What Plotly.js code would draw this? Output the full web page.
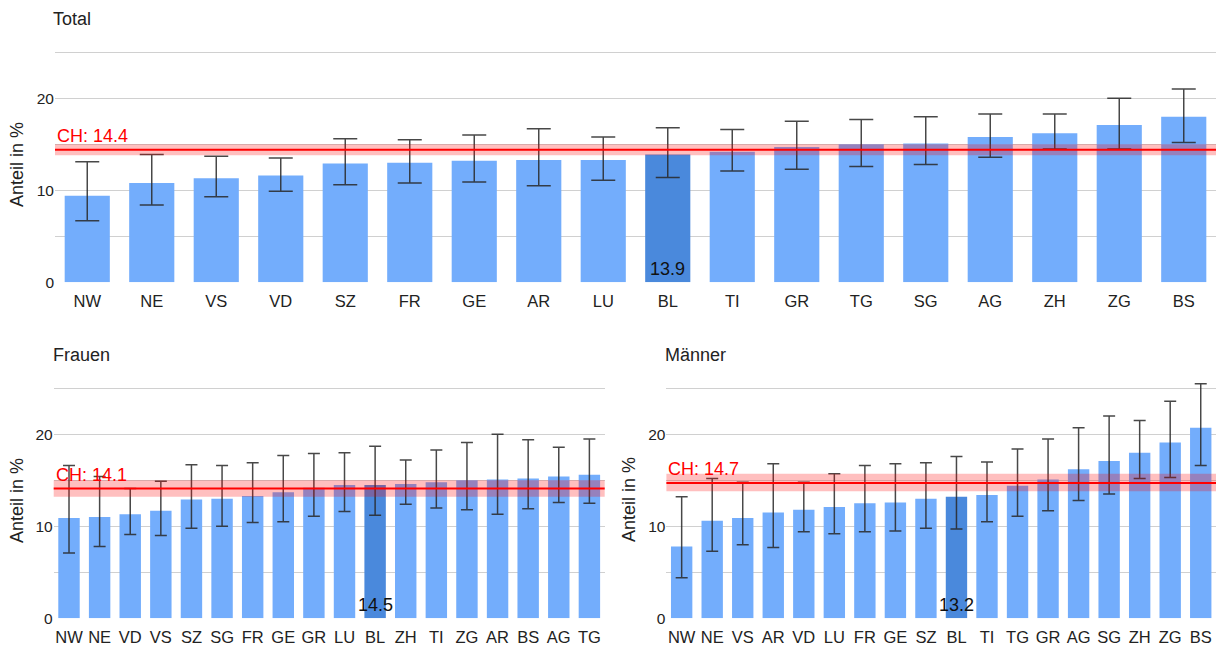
<!DOCTYPE html>
<html><head><meta charset="utf-8">
<script src="https://cdn.plot.ly/plotly-3.0.1.min.js"></script>
<style>html,body{margin:0;padding:0;background:#fff}#chart{width:1218px;height:648px}</style>
</head><body><div id="chart"></div>
<script>
// ---- Data ----
const totalCantons = ["NW","NE","VS","VD","SZ","FR","GE","AR","LU","BL","TI","GR","TG","SG","AG","ZH","ZG","BS"];
const totalValues  = [9.4,10.8,11.3,11.6,12.9,13.0,13.2,13.3,13.3,13.9,14.2,14.7,15.0,15.1,15.8,16.2,17.1,18.0];
const totalLower   = [6.7,8.4,9.3,9.9,10.6,10.8,10.9,10.5,11.1,11.4,12.1,12.3,12.6,12.8,13.6,14.5,14.5,15.2];
const totalUpper   = [13.1,13.9,13.7,13.5,15.6,15.5,16.0,16.7,15.8,16.8,16.6,17.5,17.7,18.0,18.3,18.3,20.0,21.0];
const totalCH = 14.4, totalCHLower = 13.8, totalCHUpper = 15.0;

const frauenCantons = ["NW","NE","VD","VS","SZ","SG","FR","GE","GR","LU","BL","ZH","TI","ZG","AR","BS","AG","TG"];
const frauenValues  = [10.9,11.0,11.3,11.7,12.9,13.0,13.3,13.7,14.2,14.5,14.5,14.6,14.8,15.0,15.1,15.2,15.4,15.6];
const frauenLower   = [7.1,7.8,9.1,9.0,9.8,10.0,10.4,10.5,11.1,11.6,11.2,12.4,12.0,11.8,11.3,11.9,12.6,12.5];
const frauenUpper   = [16.6,15.4,14.1,14.9,16.7,16.6,16.9,17.7,17.9,18.0,18.7,17.2,18.3,19.1,20.0,19.4,18.6,19.5];
const frauenCH = 14.1, frauenCHLower = 13.2, frauenCHUpper = 15.0;

const maennerCantons = ["NW","NE","VS","AR","VD","LU","FR","GE","SZ","BL","TI","TG","GR","AG","SG","ZH","ZG","BS"];
const maennerValues  = [7.8,10.6,10.9,11.5,11.8,12.1,12.5,12.6,13.0,13.2,13.4,14.4,15.1,16.2,17.1,18.0,19.1,20.7];
const maennerLower   = [4.4,7.3,8.0,7.7,9.4,9.2,9.4,9.5,9.8,9.7,10.5,11.1,11.7,12.8,13.5,15.2,15.3,16.6];
const maennerUpper   = [13.2,15.2,14.8,16.8,14.8,15.7,16.6,16.8,16.9,17.6,17.0,18.4,19.5,20.7,22.0,21.5,23.6,25.5];
const maennerCH = 14.7, maennerCHLower = 13.8, maennerCHUpper = 15.7;

const highlightCanton = "BL";
const panelTitles = ["Total","Frauen","Männer"];
const yTitle = "Anteil in %";
const yTickVals = [0,5,10,15,20,25];
const yTickText = ["0","","10","","20",""];

// ---- Styles ----
const FONT = "Arial, 'Liberation Sans', sans-serif";
const barColor = "#73adfc", barHighlight = "#4a89dc";
const W = 1218, H = 648;

function panel(cantons, values, lower, upper, xa, ya, capW){
  return {
    type: "bar", x: cantons, y: values, xaxis: xa, yaxis: ya,
    marker: {color: cantons.map(c => c === highlightCanton ? barHighlight : barColor)},
    error_y: {type: "data", symmetric: false,
      array: upper.map((u,i) => u - values[i]),
      arrayminus: lower.map((l,i) => values[i] - l),
      color: "rgba(40,40,40,0.85)", thickness: 1.5, width: capW},
    hoverinfo: "x+y", showlegend: false
  };
}

const data = [
  panel(totalCantons, totalValues, totalLower, totalUpper, "x", "y", 12),
  panel(frauenCantons, frauenValues, frauenLower, frauenUpper, "x2", "y2", 6),
  panel(maennerCantons, maennerValues, maennerLower, maennerUpper, "x3", "y3", 6)
];

function xax(dom){ return {domain: dom, type: "category", showgrid: false, zeroline: false, showline: false,
  ticks: "", ticklabelstandoff: 7, tickfont: {family: FONT, size: 16.5, color: "#222"}, fixedrange: true}; }
function yax(dom, anchor){ return {domain: dom, anchor: anchor, range: [0,26], tickvals: yTickVals, ticktext: yTickText,
  showgrid: true, gridcolor: "#d0d0d0", gridwidth: 1, zeroline: false, showline: false, ticks: "",
  tickfont: {family: FONT, size: 15.5, color: "#222"}, fixedrange: true}; }

const panels = [
  {cantons: totalCantons, values: totalValues, ch: totalCH, lo: totalCHLower, hi: totalCHUpper, xr: "x", yr: "y"},
  {cantons: frauenCantons, values: frauenValues, ch: frauenCH, lo: frauenCHLower, hi: frauenCHUpper, xr: "x2", yr: "y2"},
  {cantons: maennerCantons, values: maennerValues, ch: maennerCH, lo: maennerCHLower, hi: maennerCHUpper, xr: "x3", yr: "y3"}
];

const shapes = [], annotations = [];
panels.forEach(p => {
  shapes.push({type: "rect", xref: p.xr + " domain", x0: 0, x1: 1, yref: p.yr, y0: p.lo, y1: p.hi,
    fillcolor: "rgba(255,0,0,0.25)", line: {width: 0}, layer: "above"});
  shapes.push({type: "line", xref: p.xr + " domain", x0: 0, x1: 1, yref: p.yr, y0: p.ch, y1: p.ch,
    line: {color: "#ff0000", width: 2}, layer: "above"});
  annotations.push({xref: p.xr + " domain", x: 0, xanchor: "left", xshift: 0, yref: p.yr, y: p.ch, yanchor: "bottom", yshift: 2,
    text: "CH: " + p.ch.toFixed(1), showarrow: false, font: {family: FONT, size: 18, color: "#ff0000"}});
  const hi = p.cantons.indexOf(highlightCanton);
  annotations.push({xref: p.xr, x: highlightCanton, yref: p.yr, y: 0, yanchor: "bottom", yshift: 1,
    text: p.values[hi].toFixed(1), showarrow: false, font: {family: FONT, size: 18, color: "#111"}});
});

// panel titles
[[50.7, 19], [51.4, 355], [663, 355]].forEach((pos, i) => {
  annotations.push({xref: "paper", yref: "paper", x: pos[0]/W, y: 1 - pos[1]/H, xanchor: "left", yanchor: "middle",
    text: panelTitles[i], showarrow: false, font: {family: FONT, size: 18, color: "#222"}});
});
// y axis titles
[[17, 165], [17, 501], [629, 500]].forEach(pos => {
  annotations.push({xref: "paper", yref: "paper", x: pos[0]/W, y: 1 - pos[1]/H, xanchor: "center", yanchor: "middle",
    textangle: -90, text: yTitle, showarrow: false, font: {family: FONT, size: 18, color: "#222"}});
});

const layout = {
  width: W, height: H, margin: {l: 0, r: 0, t: 0, b: 0},
  paper_bgcolor: "#fff", plot_bgcolor: "#fff", bargap: 0.3, showlegend: false,
  font: {family: FONT},
  xaxis: xax([55/W, 1216/W]), yaxis: yax([1 - 282.3/H, 1 - 43.1/H], "x"),
  xaxis2: Object.assign(xax([53.7/W, 604.7/W]), {anchor: "y2"}), yaxis2: yax([1 - 618.3/H, 1 - 379.1/H], "x2"),
  xaxis3: Object.assign(xax([666.4/W, 1216/W]), {anchor: "y3"}), yaxis3: yax([1 - 618.3/H, 1 - 379.1/H], "x3"),
  shapes: shapes, annotations: annotations
};
layout.xaxis.anchor = "y";

Plotly.newPlot("chart", data, layout, {displayModeBar: false, staticPlot: true});
</script></body></html>
